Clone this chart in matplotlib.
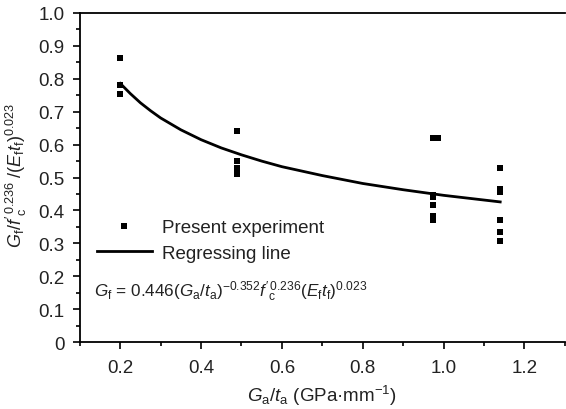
import matplotlib
matplotlib.use("Agg")
import matplotlib.pyplot as plt
from matplotlib.ticker import MultipleLocator

plt.rcParams['font.family'] = ['Liberation Sans', 'DejaVu Sans']
plt.rcParams['mathtext.fontset'] = 'custom'
plt.rcParams['mathtext.rm'] = 'Liberation Sans'
plt.rcParams['mathtext.it'] = 'Liberation Sans:italic'
plt.rcParams['mathtext.bf'] = 'Liberation Sans:bold'

# Experimental data
exp_x = [0.2, 0.2, 0.2,
         0.49, 0.49, 0.49, 0.49, 0.49,
         0.975, 0.985, 0.975, 0.975, 0.975, 0.975, 0.975,
         1.14, 1.14, 1.14, 1.14, 1.14, 1.14]
exp_y = [0.862, 0.780, 0.755,
         0.640, 0.550, 0.530, 0.518, 0.510,
         0.621, 0.619, 0.447, 0.440, 0.417, 0.382, 0.372,
         0.528, 0.465, 0.455, 0.370, 0.335, 0.308]

# Regression line
reg_x = [0.2, 0.225, 0.25, 0.275, 0.3, 0.35, 0.4, 0.45, 0.5, 0.55, 0.6, 0.7, 0.8, 0.9, 1.0, 1.07, 1.14]
reg_y = [0.786, 0.755, 0.727, 0.703, 0.681, 0.645, 0.615, 0.590, 0.569, 0.550, 0.533, 0.506, 0.482, 0.463, 0.446, 0.436, 0.426]

TXT = '#222222'
FS = 13.5

fig = plt.figure(figsize=(5.66, 4.10), dpi=100)
ax = fig.add_axes([0.141, 0.163, 0.857, 0.803])

ax.plot(exp_x, exp_y, linestyle='none', marker='s', markersize=5.0, markeredgewidth=0,
        color='black', label='Present experiment')
ax.plot(reg_x, reg_y, color='black', linewidth=2.0, label='Regressing line')

ax.set_xlim(0.1, 1.3)
ax.set_ylim(0, 1.0)
ax.xaxis.set_minor_locator(MultipleLocator(0.1))
ax.yaxis.set_minor_locator(MultipleLocator(0.05))
ax.set_xticks([0.2, 0.4, 0.6, 0.8, 1.0, 1.2])
ax.set_xticklabels(['0.2', '0.4', '0.6', '0.8', '1.0', '1.2'])
ax.set_yticks([0, 0.1, 0.2, 0.3, 0.4, 0.5, 0.6, 0.7, 0.8, 0.9, 1.0])
ax.set_yticklabels(['0', '0.1', '0.2', '0.3', '0.4', '0.5', '0.6', '0.7', '0.8', '0.9', '1.0'])

ax.tick_params(which='both', direction='out', width=1.2, colors='black', labelcolor=TXT,
               labelsize=FS, top=False, right=False)
ax.tick_params(axis='x', which='major', length=5, pad=7)
ax.tick_params(axis='y', which='major', length=5, pad=6)
ax.tick_params(which='minor', length=3)
for s in ['left', 'bottom', 'top']:
    ax.spines[s].set_linewidth(1.3)
ax.spines['right'].set_visible(False)

ax.set_xlabel(r"$G_\mathrm{a}/t_\mathrm{a}$ (GPa·mm$^{-1}$)", fontsize=FS, color=TXT, labelpad=5)
ax.set_ylabel(r"$G_\mathrm{f}/f'^{\,0.236}_\mathrm{c}\;/(E_\mathrm{f}t_\mathrm{f})^{0.023}$",
              fontsize=13, color=TXT)
ax.yaxis.set_label_coords(-0.105, 0.51)

leg = ax.legend(loc='upper left', bbox_to_anchor=(0.035, 0.373), frameon=False, fontsize=FS,
                handlelength=2.93, handletextpad=0.55, labelspacing=0.45, borderaxespad=0,
                borderpad=0, labelcolor=TXT)

ax.text(0.029, 0.155,
        r"$G_\mathrm{f}$ = 0.446($G_\mathrm{a}/t_\mathrm{a}$)$^{-0.352}$$f'^{\,0.236}_\mathrm{c}$($E_\mathrm{f}t_\mathrm{f}$)$^{0.023}$",
        transform=ax.transAxes, fontsize=12.3, color=TXT, ha='left', va='center')

fig.savefig('out.png', dpi=100)
